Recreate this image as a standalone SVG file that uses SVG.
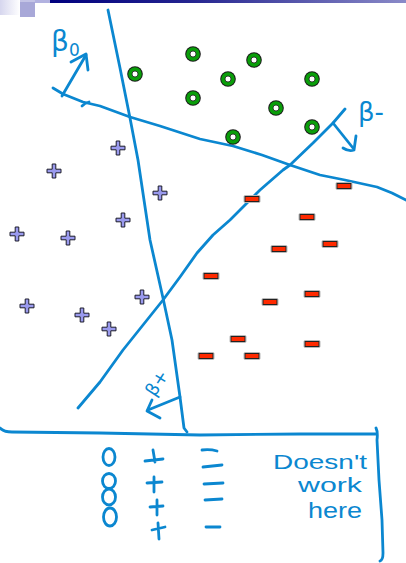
<svg xmlns="http://www.w3.org/2000/svg" width="406" height="563" viewBox="0 0 406 563">
<defs>
<style>
.ink{fill:none;stroke:#0b87d0;stroke-width:2.8;stroke-linecap:round;stroke-linejoin:round}
.hand{fill:#0b87d0;font-family:"DejaVu Sans",sans-serif}
.note{fill:#0b87d0;font-family:"Liberation Sans",Arial,sans-serif}
.ringO{fill:#1a1a1a}
.ringG{fill:#0a9e0a}
.ringW{fill:#ffffff;stroke:#1a1a1a;stroke-width:0.8}
.plus{fill:#9a9aee;stroke:#1c1c2a;stroke-width:1}
.minus{fill:#ff2a00;stroke:#222;stroke-width:1}
.shadow{fill:none;stroke:#b8b8b8;stroke-width:1}
</style>
<linearGradient id="bar" x1="0" y1="0" x2="1" y2="0">
<stop offset="0" stop-color="#00007e"/>
<stop offset="0.4" stop-color="#252590"/>
<stop offset="1" stop-color="#8a8ac8"/>
</linearGradient>
<linearGradient id="fade" x1="0" y1="0" x2="1" y2="0">
<stop offset="0" stop-color="#d6d6ee"/>
<stop offset="1" stop-color="#ffffff"/>
</linearGradient>
<g id="ring"><circle class="ringO" r="7.8"/><circle class="ringG" r="6.8"/><circle class="ringW" r="3"/></g>
<g id="plusM"><polygon class="plus" points="-1.8,-7 1.8,-7 1.8,-1.8 7,-1.8 7,1.8 1.8,1.8 1.8,7 -1.8,7 -1.8,1.8 -7,1.8 -7,-1.8 -1.8,-1.8"/></g>
<g id="minusM"><rect class="shadow" x="-8" y="-3.5" width="16" height="7" rx="1"/><rect class="minus" x="-7" y="-2.5" width="14" height="5"/></g>
</defs>
<rect width="406" height="563" fill="#ffffff"/>
<g id="header">
<rect x="0" y="0" width="20" height="15" fill="url(#fade)"/>
<rect x="20" y="0" width="15" height="17" fill="#a8a8d8"/>
<rect x="20" y="0" width="15" height="2" fill="#c4c4e6"/>
<rect x="35" y="0" width="15" height="3" fill="#b2b2e0"/>
<rect x="50" y="0" width="356" height="3" fill="url(#bar)"/>
</g>
<g id="connectors">
<polyline id="line-vertical" class="ink" points="108,10 120,68 130,118 138,160 150,240 163,298 172,340 180,397 184,428 187,432"/>
<polyline id="line-horizontal" class="ink" points="53,88 63,94 83,102 100,106 130,117 160,126 200,139 233,146 262,155 290,165 320,175 345,180 377,187 392,193 406,200"/>
<path class="ink" d="M82,106 Q85,103 89,102" stroke-width="2.2"/>
<polyline id="line-diagonal" class="ink" points="78,408 100,382 123,350 163,300 180,277 197,253 213,235 230,220 240,210 260,190 283,170 290,165 313,143 333,123 345,109"/>
<g id="arrow-b0">
<polyline class="ink" points="62,96 86,55"/>
<polyline class="ink" points="71,62 86,54 88,70"/>
</g>
<g id="arrow-bminus">
<polyline class="ink" points="333,123 353,148"/>
<path class="ink" d="M343,148 Q349,152 354,150 L356,136"/>
</g>
<g id="arrow-bplus">
<polyline class="ink" points="180,397 148,410"/>
<polyline class="ink" points="152,400 147,411 160,418"/>
</g>
<path id="table-frame" class="ink" d="M0,428 Q4,432 12,432 L100,433 L200,435 L300,434 L377,434 M376,428 Q378,432 377,440 L379,480 L382,520 L383,553 Q383,560 380,561"/>
</g>
<g id="circles">
<use href="#ring" x="135" y="74"/>
<use href="#ring" x="193" y="54"/>
<use href="#ring" x="254" y="60"/>
<use href="#ring" x="228" y="79"/>
<use href="#ring" x="312" y="79"/>
<use href="#ring" x="193" y="98"/>
<use href="#ring" x="276" y="108"/>
<use href="#ring" x="312" y="127"/>
<use href="#ring" x="233" y="137"/>
</g>
<g id="pluses">
<use href="#plusM" x="118" y="148"/>
<use href="#plusM" x="54" y="171"/>
<use href="#plusM" x="160" y="193"/>
<use href="#plusM" x="123" y="220"/>
<use href="#plusM" x="17" y="234"/>
<use href="#plusM" x="68" y="238"/>
<use href="#plusM" x="142" y="297"/>
<use href="#plusM" x="27" y="306"/>
<use href="#plusM" x="82" y="315"/>
<use href="#plusM" x="109" y="329"/>
</g>
<g id="minuses">
<use href="#minusM" x="344" y="186"/>
<use href="#minusM" x="252" y="199"/>
<use href="#minusM" x="307" y="217"/>
<use href="#minusM" x="330" y="244"/>
<use href="#minusM" x="279" y="249"/>
<use href="#minusM" x="211" y="276"/>
<use href="#minusM" x="312" y="294"/>
<use href="#minusM" x="270" y="302"/>
<use href="#minusM" x="238" y="339"/>
<use href="#minusM" x="312" y="344"/>
<use href="#minusM" x="206" y="356"/>
<use href="#minusM" x="252" y="356"/>
</g>
<g id="labels">
<text class="hand" x="51" y="51" font-size="28">β<tspan font-size="17" dy="5">0</tspan></text>
<text class="hand" x="358" y="121" font-size="26">β-</text>
<text class="hand" x="157" y="389" font-size="18" text-anchor="middle" transform="rotate(-57 157 383)">β+</text>
</g>
<g id="table">
<g id="col-circles" class="ink" stroke-width="2.6">
<ellipse cx="109" cy="457" rx="6" ry="8.5"/>
<ellipse cx="109" cy="481" rx="6.5" ry="7.5"/>
<ellipse cx="109" cy="497" rx="6.5" ry="8"/>
<ellipse cx="110" cy="517" rx="6.5" ry="9"/>
</g>
<g id="col-plus" class="ink" stroke-width="2.6">
<path d="M153,450 L155,462 M145,461 L163,459"/>
<path d="M154,477 L154,492 M147,483 L162,482"/>
<path d="M157,500 L157,515 M150,507 L163,506"/>
<path d="M158,523 L159,539 M152,530 L165,527"/>
</g>
<g id="col-minus" class="ink" stroke-width="2.6">
<path d="M202,450 Q210,449 217,451"/>
<path d="M203,467 L222,465"/>
<path d="M204,484 L223,483"/>
<path d="M205,500 L222,499"/>
<path d="M206,527 L220,527"/>
</g>
<text class="note" x="273" y="469" font-size="21" textLength="94" lengthAdjust="spacingAndGlyphs">Doesn't</text>
<text class="note" x="298" y="492" font-size="20" textLength="64" lengthAdjust="spacingAndGlyphs">work</text>
<text class="note" x="308" y="518" font-size="22" textLength="54" lengthAdjust="spacingAndGlyphs">here</text>
</g>
</svg>
